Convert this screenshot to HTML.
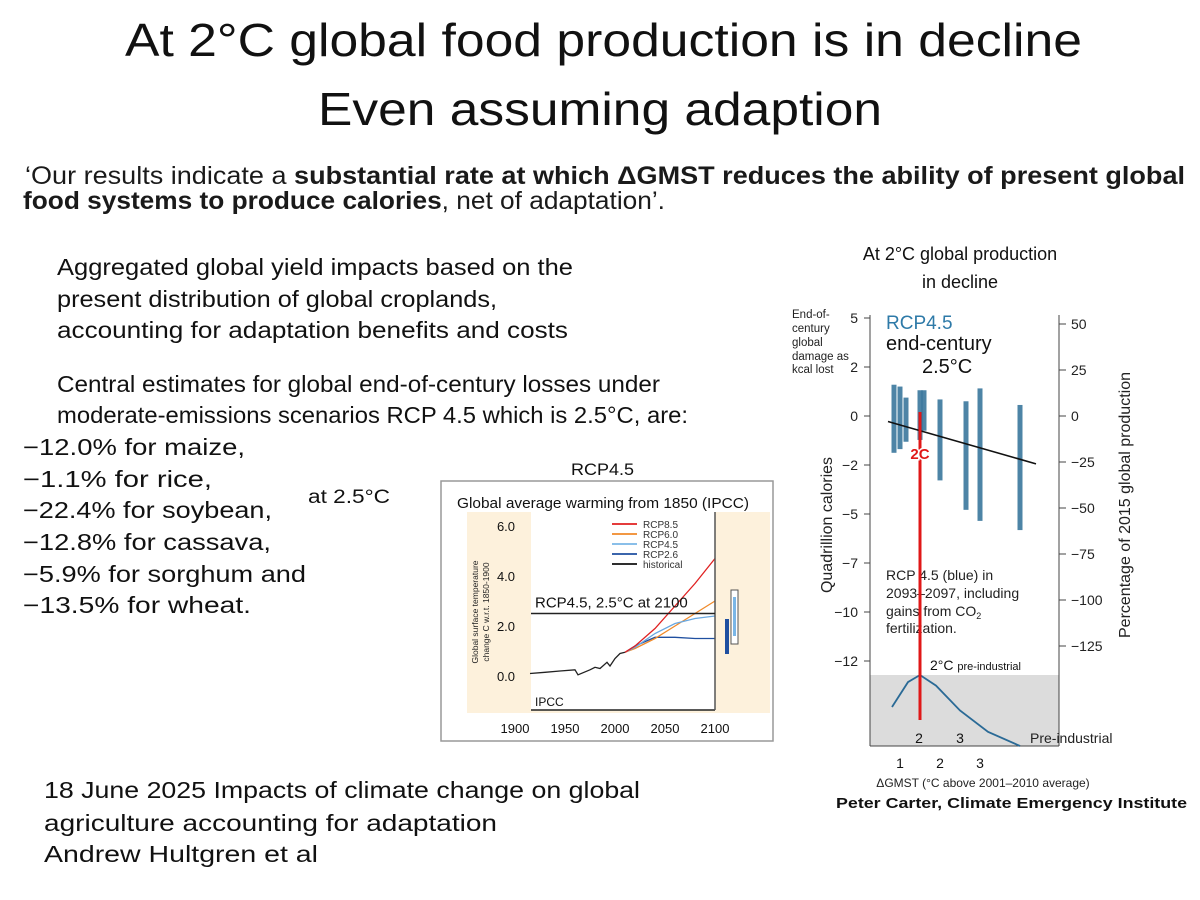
<!DOCTYPE html>
<html><head><meta charset="utf-8"><style>
html,body{margin:0;padding:0;background:#fff;}
svg{display:block;font-family:"Liberation Sans",sans-serif;}
</style></head><body>
<svg id="page" width="1200" height="900" viewBox="0 0 1200 900" xmlns="http://www.w3.org/2000/svg">
<rect x="0" y="0" width="1200" height="900" fill="#fff"/>
<g fill="#111" font-size="46">
<text x="125" y="56" textLength="957" lengthAdjust="spacingAndGlyphs">At 2°C global food production is in decline</text>
<text x="318" y="125" textLength="564" lengthAdjust="spacingAndGlyphs">Even assuming adaption</text>
</g>
<g fill="#1a1a1a" font-size="25">
<text x="25" y="184" textLength="1160" lengthAdjust="spacingAndGlyphs">‘Our results indicate a <tspan font-weight="bold">substantial rate at which ΔGMST reduces the ability of present global</tspan></text>
<text x="23" y="209" textLength="642" lengthAdjust="spacingAndGlyphs"><tspan font-weight="bold">food systems to produce calories</tspan>, net of adaptation’.</text>
</g>
<g fill="#111" font-size="23">
<text x="57" y="275" textLength="516" lengthAdjust="spacingAndGlyphs">Aggregated global yield impacts based on the</text>
<text x="57" y="307" textLength="440" lengthAdjust="spacingAndGlyphs">present distribution of global croplands,</text>
<text x="57" y="338" textLength="511" lengthAdjust="spacingAndGlyphs">accounting for adaptation benefits and costs</text>
<text x="57" y="392" textLength="603" lengthAdjust="spacingAndGlyphs">Central estimates for global end-of-century losses under</text>
<text x="57" y="423" textLength="631" lengthAdjust="spacingAndGlyphs">moderate-emissions scenarios RCP 4.5 which is 2.5°C,  are:</text>
</g>
<g fill="#111" font-size="23">
<text x="23" y="455" textLength="222" lengthAdjust="spacingAndGlyphs">−12.0% for maize,</text>
<text x="23" y="487" textLength="189" lengthAdjust="spacingAndGlyphs">−1.1% for rice,</text>
<text x="23" y="518" textLength="249" lengthAdjust="spacingAndGlyphs">−22.4% for soybean,</text>
<text x="23" y="550" textLength="248" lengthAdjust="spacingAndGlyphs">−12.8% for cassava,</text>
<text x="23" y="582" textLength="283" lengthAdjust="spacingAndGlyphs">−5.9% for sorghum and</text>
<text x="23" y="613" textLength="228" lengthAdjust="spacingAndGlyphs">−13.5% for wheat.</text>
</g>
<text x="308" y="503" font-size="19" fill="#111" textLength="82" lengthAdjust="spacingAndGlyphs">at 2.5°C</text>
<g fill="#111" font-size="23">
<text x="44" y="798" textLength="596" lengthAdjust="spacingAndGlyphs">18 June 2025 Impacts of climate change on global</text>
<text x="44" y="831" textLength="453" lengthAdjust="spacingAndGlyphs">agriculture accounting for adaptation</text>
<text x="44" y="862" textLength="274" lengthAdjust="spacingAndGlyphs">Andrew Hultgren et al</text>
</g>

<!-- Middle IPCC chart -->
<text x="571" y="475" font-size="17" fill="#111" textLength="63" lengthAdjust="spacingAndGlyphs">RCP4.5</text>
<g id="ipcc">
<rect x="441" y="481" width="332" height="260" fill="#fff" stroke="#999" stroke-width="1.5"/>
<text x="457" y="508" font-size="15" fill="#111" textLength="292" lengthAdjust="spacingAndGlyphs">Global average warming from 1850 (IPCC)</text>
<rect x="467" y="512" width="303" height="201" fill="#fdf1dc"/>
<rect x="531" y="512" width="184" height="198" fill="#fff"/>
<text transform="translate(478,612) rotate(-90)" font-size="8.5" fill="#222" text-anchor="middle">Global surface temperature</text>
<text transform="translate(489,612) rotate(-90)" font-size="8.5" fill="#222" text-anchor="middle">change C w.r.t. 1850-1900</text>
<g id="ipcc-yticks"></g><g id="ipcc-xticks"></g><g id="ipcc-lines"></g>
<line x1="531" y1="710" x2="715" y2="710" stroke="#222" stroke-width="1.5"/>
<line x1="715" y1="512" x2="715" y2="710" stroke="#555" stroke-width="1.5"/>
<line id="ref-line" x1="531" x2="715" stroke="#222" stroke-width="1.5"/>
<text id="ref-label" x="535" font-size="15" fill="#111">RCP4.5, 2.5°C at 2100</text>
<text x="535" y="706" font-size="12" fill="#111">IPCC</text>
<g id="ipcc-legend"></g>
<rect x="725" y="619" width="4" height="35" fill="#1f4fa0"/>
<rect x="731" y="590" width="7" height="54" fill="#fff" stroke="#555" stroke-width="1"/>
<rect x="733" y="597" width="3" height="39" fill="#7ab6e6"/>
</g>

<!-- Right chart -->
<g font-size="18" fill="#111" text-anchor="middle">
<text x="960" y="260">At 2°C global production</text>
<text x="960" y="288">in decline</text>
</g>
<g id="rc">
<g font-size="11.5" fill="#222">
<text x="792" y="318">End-of-</text><text x="792" y="332">century</text><text x="792" y="346">global</text><text x="792" y="360">damage as</text><text x="792" y="373">kcal lost</text>
</g>
<rect x="870" y="675" width="189" height="71" fill="#dcdcdc"/>
<line x1="870" y1="315" x2="870" y2="746" stroke="#444" stroke-width="1"/>
<line x1="1059" y1="315" x2="1059" y2="746" stroke="#444" stroke-width="1"/>
<line x1="870" y1="746" x2="1059" y2="746" stroke="#444" stroke-width="1"/>
<g id="rc-lticks"></g><g id="rc-rticks"></g><g id="rc-xticks"></g>
<text transform="translate(832,525) rotate(-90)" font-size="16" fill="#222" text-anchor="middle">Quadrillion calories</text>
<text transform="translate(1130,505) rotate(-90)" font-size="16" fill="#222" text-anchor="middle">Percentage of 2015 global production</text>
<text x="983" y="862" font-size="12" fill="#222" text-anchor="middle" transform="translate(0,-75)">ΔGMST (°C above 2001–2010 average)</text>
<text x="886" y="329" font-size="19" fill="#2e7aa8">RCP4.5</text>
<text x="886" y="350" font-size="20" fill="#111">end-century</text>
<text x="922" y="373" font-size="20" fill="#111">2.5°C</text>
<g id="rc-scatter"></g>
<line id="rc-fit" stroke="#111" stroke-width="1.6"/>
<g font-size="14" fill="#222">
<text x="886" y="580">RCP 4.5 (blue) in</text>
<text x="886" y="598">2093–2097, including</text>
<text x="886" y="616">gains from CO<tspan font-size="9" dy="3">2</tspan></text>
<text x="886" y="633">fertilization.</text>
</g>
<path id="rc-density" fill="none" stroke="#2a6a96" stroke-width="1.8"/>
<text x="930" y="724" font-size="14" fill="#111" transform="translate(0,-54)">2°C <tspan font-size="11">pre-industrial</tspan></text>
<text x="919" y="746" font-size="14" fill="#111" transform="translate(0,-3)" text-anchor="middle">2</text>
<text x="960" y="746" font-size="14" fill="#111" transform="translate(0,-3)" text-anchor="middle">3</text>
<text x="1030" y="746" font-size="14" fill="#222" transform="translate(0,-3)">Pre-industrial</text>
<rect x="918.5" y="412" width="3" height="308" fill="#e01818"/>
<text x="920" y="459" font-size="15" font-weight="bold" fill="#e01818" stroke="#fff" stroke-width="3" paint-order="stroke" text-anchor="middle">2C</text>
</g>
<text x="836" y="823" font-size="14.5" font-weight="bold" fill="#111" textLength="351" lengthAdjust="spacingAndGlyphs" transform="translate(0,-15)">Peter Carter,  Climate Emergency Institute</text>
</svg>
<script>
// ---- IPCC chart data ----
const ipccYTicks = [0, 2, 4, 6];
const ipccXTicks = [1900, 1950, 2000, 2050, 2100];
const histYears = [1915, 1930, 1945, 1960, 1963, 1975, 1980, 1985, 1992, 1995, 2000, 2005, 2010];
const histTemps = [0.1, 0.15, 0.2, 0.25, 0.05, 0.25, 0.35, 0.3, 0.55, 0.4, 0.7, 0.9, 0.95];
const projYears = [2010, 2020, 2040, 2060, 2080, 2100];
const rcp85 = [0.95, 1.2, 1.9, 2.8, 3.7, 4.7];
const rcp60 = [0.95, 1.1, 1.5, 2.0, 2.5, 3.0];
const rcp45 = [0.95, 1.15, 1.7, 2.1, 2.3, 2.4];
const rcp26 = [0.95, 1.2, 1.55, 1.55, 1.5, 1.5];
const refTemp = 2.5;
const legendNames = ["RCP8.5", "RCP6.0", "RCP4.5", "RCP2.6", "historical"];
// ---- Right chart data ----
const leftTickLabels = ["5", "2", "0", "−2", "−5", "−7", "−10", "−12"];
const rightTicks = [50, 25, 0, -25, -50, -75, -100, -125];
const xTicks = [1, 2, 3];
const colTemps = [0.85, 1.0, 1.15, 1.5, 1.6, 2.0, 2.65, 3.0, 4.0];
const colTops = [17, 16, 10, 14, 14, 9, 8, 15, 6];
const colBottoms = [-20, -18, -14, -13, -8, -35, -51, -57, -62];
const fitTemps = [0.7, 4.4];
const fitPct = [-3, -26];
const densTemps = [0.8, 1.2, 1.5, 1.9, 2.5, 3.2, 4.0];
const densVals = [0.55, 0.9, 1.0, 0.85, 0.5, 0.2, 0.0];

const NS = "http://www.w3.org/2000/svg";
function mk(tag, attrs, parent) { const e = document.createElementNS(NS, tag); for (const k in attrs) e.setAttribute(k, attrs[k]); parent.appendChild(e); return e; }

const ix = y => 515 + (y - 1900) * 1.0;
const iy = t => 676 - t * 25;
const gy = document.getElementById('ipcc-yticks');
ipccYTicks.forEach(t => {
  const el = mk('text', {x: 506, y: iy(t) + 5, 'font-size': 13, 'text-anchor': 'middle', fill: '#111'}, gy);
  el.textContent = t.toFixed(1);
  
  
});
const gx = document.getElementById('ipcc-xticks');
ipccXTicks.forEach(t => {
  const el = mk('text', {x: ix(t), y: 733, 'font-size': 13, 'text-anchor': 'middle', fill: '#111'}, gx);
  el.textContent = t;
  
  
});
const gl = document.getElementById('ipcc-lines');
function series(xs, ys, color, name) {
  const d = xs.map((x, i) => (i ? 'L' : 'M') + ix(x).toFixed(1) + ',' + iy(ys[i]).toFixed(1)).join(' ');
  const p = mk('path', {d: d, fill: 'none', stroke: color, 'stroke-width': 1.3}, gl);
  
  
}
series(histYears, histTemps, '#222', 'historical-line');
series(projYears, rcp26, '#1f4fa0', 'rcp26-line');
series(projYears, rcp60, '#f08a2a', 'rcp60-line');
series(projYears, rcp45, '#6aa8e0', 'rcp45-line');
series(projYears, rcp85, '#e02020', 'rcp85-line');
const rl = document.getElementById('ref-line');
rl.setAttribute('y1', iy(refTemp)); rl.setAttribute('y2', iy(refTemp));
document.getElementById('ref-label').setAttribute('y', iy(refTemp) - 6);
const legColors = ['#e02020', '#f08a2a', '#7ab6e6', '#1f4fa0', '#111'];
const lg = document.getElementById('ipcc-legend');
legendNames.forEach((n, i) => {
  const y = 524 + i * 10;
  const ln = mk('line', {x1: 612, x2: 637, y1: y, y2: y, stroke: legColors[i], 'stroke-width': 1.8}, lg);
  
  
  const t = mk('text', {x: 643, y: y + 4, 'font-size': 10, fill: '#333'}, lg);
  t.textContent = n;
  
  
});

const rx = t => 860 + t * 40;
const ry = p => 416 - p * 1.84;
const lt = document.getElementById('rc-lticks');
leftTickLabels.forEach((s, i) => {
  const y = 318 + i * 49;
  mk('line', {x1: 864, x2: 870, y1: y, y2: y, stroke: '#444'}, lt);
  const t = mk('text', {x: 858, y: y + 5, 'font-size': 14, 'text-anchor': 'end', fill: '#222'}, lt);
  t.textContent = s;
  
  
});
const rt = document.getElementById('rc-rticks');
rightTicks.forEach(v => {
  const y = ry(v);
  mk('line', {x1: 1059, x2: 1066, y1: y, y2: y, stroke: '#444'}, rt);
  const t = mk('text', {x: 1071, y: y + 5, 'font-size': 14, fill: '#222'}, rt);
  t.textContent = v < 0 ? '−' + Math.abs(v) : String(v);
  
  
});
const xt = document.getElementById('rc-xticks');
xTicks.forEach(v => {
  const t = mk('text', {x: rx(v), y: 768, 'font-size': 14, 'text-anchor': 'middle', fill: '#111'}, xt);
  t.textContent = v;
  
  
});
const sc = document.getElementById('rc-scatter');
colTemps.forEach((t, i) => {
  const y1 = ry(colTops[i]), y2 = ry(colBottoms[i]);
  const r = mk('rect', {x: rx(t) - 2.5, y: y1, width: 5, height: y2 - y1, fill: '#2e6f97', opacity: 0.85}, sc);
  
  
});
const fit = document.getElementById('rc-fit');
fit.setAttribute('x1', rx(fitTemps[0])); fit.setAttribute('y1', ry(fitPct[0]));
fit.setAttribute('x2', rx(fitTemps[1])); fit.setAttribute('y2', ry(fitPct[1]));
const dy = v => 746 - v * 71;
document.getElementById('rc-density').setAttribute('d',
  densTemps.map((t, i) => (i ? 'L' : 'M') + rx(t).toFixed(1) + ',' + dy(densVals[i]).toFixed(1)).join(' '));
</script>
</body></html>
